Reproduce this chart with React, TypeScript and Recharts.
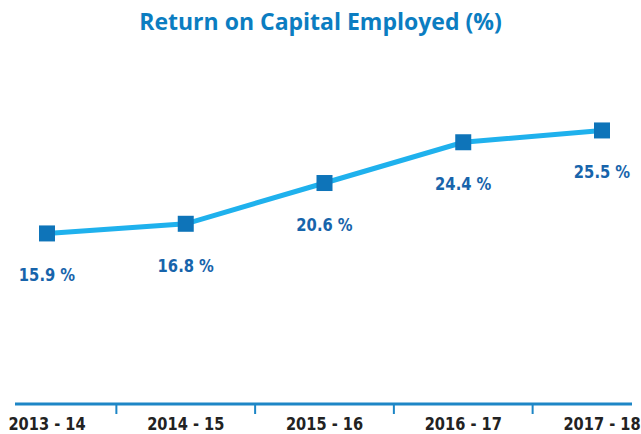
import React from "react";
import { LineChart, Line, XAxis, YAxis } from "recharts";

const years = ["2013 - 14", "2014 - 15", "2015 - 16", "2016 - 17", "2017 - 18"];
const roce = [15.9, 16.8, 20.6, 24.4, 25.5];

const data = years.map((year, i) => ({ year, roce: roce[i] }));

const W = 641;
const H = 434;
const margin = { top: 50, right: 9, left: 15, bottom: 0 };
const pad = { left: 32, right: 30 };
const step = (W - margin.left - margin.right - pad.left - pad.right) / (years.length - 1);

const font = "'DejaVu Sans', sans-serif";

const YearTick = (props: any) => {
  const { x, y, payload, index } = props;
  return (
    <g>
      {index < years.length - 1 && (
        <line x1={x + step / 2} x2={x + step / 2} y1={y} y2={y + 10} stroke="#1d86c6" strokeWidth={2} />
      )}
      <g transform={`translate(${x},${y + 26}) scale(0.86,1)`}>
        <text textAnchor="middle" fontFamily={font} fontWeight="bold" fontSize={17} fill="#222">
          {payload.value}
        </text>
      </g>
    </g>
  );
};

const Square = (props: any) => {
  const { cx, cy } = props;
  if (cx == null || cy == null) return null;
  return <rect x={cx - 8} y={cy - 8} width={16} height={16} fill="#0e74b9" />;
};

const ValueLabel = (props: any) => {
  const { x, y, value } = props;
  return (
    <g transform={`translate(${x},${y + 48}) scale(0.82,1)`}>
      <text textAnchor="middle" fontFamily={font} fontWeight="bold" fontSize={18} fill="#1764ab">
        {`${value} %`}
      </text>
    </g>
  );
};

export default function App() {
  return (
    <div style={{ position: "absolute", left: 0, top: 0, width: W, height: H, background: "#fff" }}>
      <div
        style={{
          position: "absolute",
          top: 5,
          width: W,
          textAlign: "center",
          fontFamily: "'Open Sans', sans-serif",
          fontWeight: 700,
          fontSize: 23,
          color: "#0b7dc1",
        }}
      >
        Return on Capital Employed (%)
      </div>
      <LineChart width={W} height={H} data={data} margin={margin}>
        <XAxis
          dataKey="year"
          height={30}
          padding={pad}
          axisLine={{ stroke: "#1d86c6", strokeWidth: 3 }}
          tickLine={false}
          tickSize={0}
          tickMargin={0}
          tick={<YearTick />}
          interval={0}
        />
        <YAxis hide domain={[0, 33]} />
        <Line
          dataKey="roce"
          stroke="#1fb1ed"
          strokeWidth={5}
          dot={<Square />}
          activeDot={false}
          label={<ValueLabel />}
          isAnimationActive={false}
        />
      </LineChart>
    </div>
  );
}
